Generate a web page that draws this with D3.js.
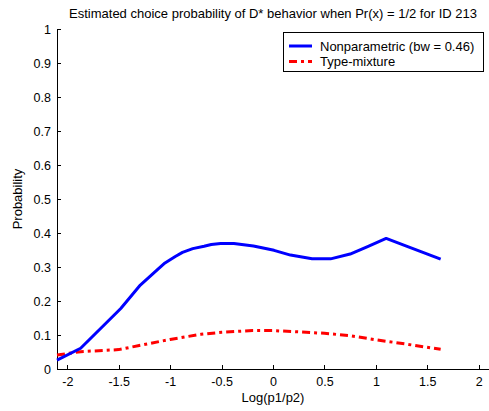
<!DOCTYPE html>
<html>
<head>
<meta charset="utf-8">
<script src="https://cdn.jsdelivr.net/npm/d3@7"></script>
<style>
  body { margin: 0; background: #fff; }
  svg text { font-family: Arial, "Liberation Sans", sans-serif; font-size: 13px; fill: #000; }
  .axis text { font-size: 12.5px; }
  .axis path, .axis line { stroke: #000; shape-rendering: crispEdges; }
</style>
</head>
<body>
<div id="chart"></div>
<script>
// Data
var npX = [-2.1, -1.87, -1.48, -1.29, -1.11, -1.05, -0.95, -0.88, -0.78, -0.67, -0.6, -0.51, -0.38, -0.19, 0.01, 0.17, 0.38, 0.56, 0.75, 0.92, 1.10, 1.31, 1.63];
var npY = [0.026, 0.061, 0.178, 0.247, 0.296, 0.312, 0.331, 0.343, 0.354, 0.361, 0.366, 0.369, 0.369, 0.362, 0.349, 0.335, 0.324, 0.324, 0.338, 0.360, 0.384, 0.360, 0.323];
var tmX = [-2.1, -1.87, -1.5, -1.3, -1.0, -0.7, -0.5, -0.2, 0, 0.2, 0.5, 0.75, 1.0, 1.3, 1.63];
var tmY = [0.041, 0.051, 0.057, 0.069, 0.087, 0.102, 0.108, 0.113, 0.113, 0.110, 0.105, 0.098, 0.086, 0.073, 0.058];
var xTicks = [-2, -1.5, -1, -0.5, 0, 0.5, 1, 1.5, 2];
var yTicks = [0, 0.1, 0.2, 0.3, 0.4, 0.5, 0.6, 0.7, 0.8, 0.9, 1];
var seriesNames = ["Nonparametric (bw = 0.46)", "Type-mixture"];

var W = 489, H = 411;
var margin = {top: 29, right: 0, bottom: 42, left: 57},
    width = W - margin.left - margin.right,
    height = H - margin.top - margin.bottom;

var svg = d3.select("#chart").append("svg")
    .attr("width", W)
    .attr("height", H);

var g = svg.append("g")
    .attr("transform", "translate(" + margin.left + "," + margin.top + ")");

var x = d3.scaleLinear().domain([-2.1, 2.1]).range([0, width]);
var y = d3.scaleLinear().domain([0, 1]).range([height, 0]);

// Axes (ticks point inward, MATLAB style)
var xAxis = d3.axisBottom(x).tickValues(xTicks).tickSizeInner(-4).tickSizeOuter(0)
    .tickFormat(function(d) { return String(d); });
var yAxis = d3.axisLeft(y).tickValues(yTicks).tickSizeInner(-4).tickSizeOuter(0)
    .tickFormat(function(d) { return String(d); });

g.append("g")
    .attr("class", "x axis")
    .attr("transform", "translate(0," + height + ")")
    .call(xAxis)
  .selectAll("text")
    .attr("y", 8)
    .attr("dy", ".71em");

g.append("g")
    .attr("class", "y axis")
    .call(yAxis)
  .selectAll("text")
    .attr("x", -6);

// Lines
var lineNp = d3.line()
    .x(function(d, i) { return x(npX[i]); })
    .y(function(d) { return y(d); });
var lineTm = d3.line()
    .x(function(d, i) { return x(tmX[i]); })
    .y(function(d) { return y(d); });

g.append("path")
    .attr("d", lineTm(tmY))
    .attr("fill", "none")
    .attr("stroke", "#ff0000")
    .attr("stroke-width", 3)
    .attr("stroke-dasharray", "8,4,3,4");

g.append("path")
    .attr("d", lineNp(npY))
    .attr("fill", "none")
    .attr("stroke", "#0000ff")
    .attr("stroke-width", 3)
    .attr("stroke-linejoin", "round");

// Title and axis labels
svg.append("text")
    .attr("x", margin.left + x(0))
    .attr("y", 18)
    .attr("text-anchor", "middle")
    .text("Estimated choice probability of D* behavior when Pr(x) = 1/2 for ID 213");

svg.append("text")
    .attr("x", margin.left + x(0))
    .attr("y", 402)
    .attr("text-anchor", "middle")
    .text("Log(p1/p2)");

svg.append("text")
    .attr("transform", "translate(22," + (margin.top + height / 2) + ") rotate(-90)")
    .attr("text-anchor", "middle")
    .text("Probability");

// Legend
var legend = svg.append("g").attr("transform", "translate(283,32)");
legend.append("rect")
    .attr("width", 200).attr("height", 39)
    .attr("fill", "#fff").attr("stroke", "#000").attr("stroke-width", 1)
    .attr("shape-rendering", "crispEdges");
var styles = [
  {color: "#0000ff", dash: null},
  {color: "#ff0000", dash: "8,4,3,4"}
];
seriesNames.forEach(function(name, i) {
  var row = legend.append("g").attr("transform", "translate(0," + (14 + i * 15.5) + ")");
  row.append("line")
      .attr("x1", 6).attr("x2", 29).attr("y1", 0).attr("y2", 0)
      .attr("stroke", styles[i].color).attr("stroke-width", 3)
      .attr("stroke-dasharray", styles[i].dash);
  row.append("text")
      .attr("x", 37).attr("y", 0).attr("dy", ".35em")
      .text(name);
});
</script>
</body>
</html>
